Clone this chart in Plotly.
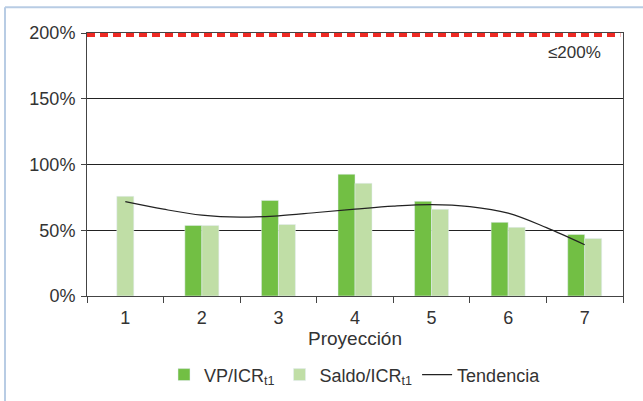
import plotly.graph_objects as go

# datos
categorias = ["1", "2", "3", "4", "5", "6", "7"]
vp_icr = [None, 53.7, 72.7, 92.6, 72.0, 56.0, 46.8]
saldo_icr = [75.8, 53.7, 54.4, 85.7, 65.9, 52.2, 43.8]
tend_x = [1, 1.5, 2, 2.5, 3, 3.5, 4, 4.5, 5, 5.5, 6, 6.5, 7]
tend_y = [71.7, 66, 61.5, 60, 61, 63.5, 66, 68.3, 69.5, 68, 63, 52, 39]
limite = 200
y_ticks = [0, 50, 100, 150, 200]
y_labels = ['0%', '50%', '100%', '150%', '200%']

VERDE = '#72bf44'
VERDE_CLARO = '#c0dea6'
ROJO = '#ee2a24'
MARCO = '#b8cce4'
FUENTE = 'Liberation Sans, Arial, Helvetica, sans-serif'

w = 0.222
off_vp = [-w] * len(categorias)
off_saldo = [-w / 2 if v is None else 0 for v in vp_icr]

fig = go.Figure()

fig.add_trace(go.Bar(x=categorias, y=vp_icr, name='VP/ICR<sub>t1</sub>',
                     marker_color=VERDE, width=w, offset=off_vp))
fig.add_trace(go.Bar(x=categorias, y=saldo_icr, name='Saldo/ICR<sub>t1</sub>',
                     marker_color=VERDE_CLARO, width=w, offset=off_saldo))
fig.add_trace(go.Scatter(x=tend_x, y=tend_y, name='Tendencia', mode='lines',
                         line=dict(color='#222222', width=1.2, shape='spline'),
                         xaxis='x2'))

# linea limite 200%
fig.add_shape(type='line', xref='paper', x0=0, x1=0.995, yref='y',
              y0=limite - 1.6, y1=limite - 1.6,
              line=dict(color=ROJO, width=4, dash='8px,5px'), layer='above')
fig.add_annotation(xref='paper', x=0.91, xanchor='center', yref='y', y=185,
                   text='≤200%', showarrow=False,
                   font=dict(size=17, color='#333333'))

# marco exterior (izquierda y arriba)
fig.add_shape(type='line', xref='paper', yref='paper', x0=-0.153, x1=-0.153,
              y0=-0.5, y1=1.098, line=dict(color=MARCO, width=2))
fig.add_shape(type='line', xref='paper', yref='paper', x0=-0.153, x1=1.1,
              y0=1.098, y1=1.098, line=dict(color=MARCO, width=2))

fig.update_layout(
    width=643, height=401,
    margin=dict(l=87, r=20, t=33, b=105, autoexpand=False),
    paper_bgcolor='white', plot_bgcolor='white',
    barmode='overlay',
    font=dict(family=FUENTE, size=18, color='#333333'),
    legend=dict(orientation='h', x=0.5, xanchor='center', y=-0.30, yanchor='middle',
                font=dict(size=18), itemwidth=30, traceorder='normal'),
    xaxis=dict(type='category', range=[-0.5, 6.5], showline=True, linecolor='#444444',
               mirror=True, ticks='outside', tickson='boundaries', ticklen=6,
               tickcolor='#444444', showgrid=False, ticklabelstandoff=5,
               automargin=False,
               title=dict(text='Proyección', standoff=4, font=dict(size=19))),
    xaxis2=dict(overlaying='x', range=[0.5, 7.5], visible=False),
    yaxis=dict(range=[0, 200], tickvals=y_ticks, ticktext=y_labels, showline=True,
               linecolor='#444444', mirror=True, ticks='outside', ticklen=5,
               tickcolor='#444444', gridcolor='#222222', gridwidth=1, zeroline=False,
               ticklabelstandoff=2, automargin=False),
)

fig.write_html("out.html", config={'displayModeBar': False},
               post_script="document.body.style.margin='0';")
